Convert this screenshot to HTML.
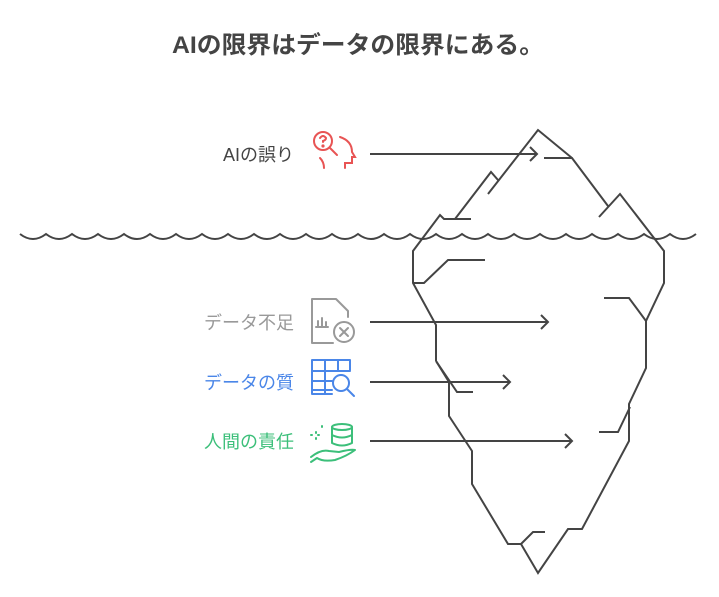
<!DOCTYPE html>
<html><head><meta charset="utf-8"><style>
html,body{margin:0;padding:0;background:#fff;width:719px;height:597px;overflow:hidden}
svg{display:block}
text{font-family:"Liberation Sans","Noto Sans CJK JP",sans-serif}
</style></head><body>
<svg width="719" height="597" viewBox="0 0 719 597" xmlns="http://www.w3.org/2000/svg">
<text x="358" y="53" text-anchor="middle" font-size="24" font-weight="bold" fill="#444" textLength="372" lengthAdjust="spacingAndGlyphs">AIの限界はデータの限界にある。</text>

<g fill="none" stroke="#444" stroke-width="2" stroke-linejoin="miter">
<polyline points="544,158 572,158 608,206"/>
<polyline points="599,217 620,194 664,251 664,283 646,321 646,368 629,404 629,441 582,529 568,529 538,573 521,544 508,544 472,484 472,451 449,416 449,382"/>
<polyline points="604,298 629,298 646,321"/>
<polyline points="599,432 618,432 630,407"/>
<polyline points="521,544 533,532 545,532"/>
<polyline points="436,361 457,392 473,392"/>
<polyline points="449,382 449,390"/>
<polyline points="436,361 436,325 413,283 413,251 440,215 444,219 471,219"/>
<polyline points="413,283 424,283 448,260 485,260"/>
<polyline points="455,219 491,172 498,180"/>
<polyline points="488,194 538,130 572,158"/>
<polyline points="436,361 449,382"/>
<path d="M20,234 q13,10 26,0 q13,10 26,0 q13,10 26,0 q13,10 26,0 q13,10 26,0 q13,10 26,0 q13,10 26,0 q13,10 26,0 q13,10 26,0 q13,10 26,0 q13,10 26,0 q13,10 26,0 q13,10 26,0 q13,10 26,0 q13,10 26,0 q13,10 26,0 q13,10 26,0 q13,10 26,0 q13,10 26,0 q13,10 26,0 q13,10 26,0 q13,10 26,0 q13,10 26,0 q13,10 26,0 q13,10 26,0 q13,10 26,0"/>
<line x1="370" y1="154" x2="537" y2="154"/><polyline points="530,147 537,154 530,161"/>
<line x1="370" y1="322" x2="548" y2="322"/><polyline points="541,315 548,322 541,329"/>
<line x1="370" y1="382" x2="510" y2="382"/><polyline points="503,375 510,382 503,389"/>
<line x1="370" y1="441" x2="572" y2="441"/><polyline points="565,434 572,441 565,448"/>
</g>

<text x="294" y="161" text-anchor="end" font-size="18" fill="#444">AIの誤り</text>
<text x="294" y="329" text-anchor="end" font-size="18" fill="#999">データ不足</text>
<text x="294" y="389" text-anchor="end" font-size="18" fill="#4a86e8">データの質</text>
<text x="294" y="448" text-anchor="end" font-size="18" fill="#3cbf7a">人間の責任</text>

<g fill="none" stroke="#e85454" stroke-width="2" stroke-linecap="round">
<circle cx="323" cy="141" r="9"/>
<path d="M320,138 q3,-4 6,0 q0,2 -3,3 v1"/>
<circle cx="323" cy="146" r="0.6" fill="#e85454"/>
<line x1="330" y1="148" x2="337" y2="155"/>
<path d="M340,137 q12,4 12,15 l3,5 h-3 v6 h-7 v5"/>
<path d="M320,158 q4,4 4,10"/>
</g>
<g fill="none" stroke="#999" stroke-width="2" stroke-linecap="round" stroke-linejoin="round">
<path d="M333,343 h-21 v-44 h24 l12,12 v6"/>
<path d="M316,327 h12 M318,327 v-6 M322,327 v-9 M326,327 v-5"/>
<circle cx="344" cy="332" r="10"/>
<path d="M340,328 l8,8 M348,328 l-8,8"/>
</g>
<g fill="none" stroke="#4a86e8" stroke-width="2" stroke-linecap="round" stroke-linejoin="round">
<path d="M332,394 h-20 v-34 h38 v10"/>
<path d="M312,371 h38 M312,381 h20 M312,390 h20 M325,361 v33 M338,361 v9"/>
<circle cx="341" cy="383" r="8"/>
<line x1="347" y1="389" x2="354" y2="396"/>
</g>
<g fill="none" stroke="#3cbf7a" stroke-width="2" stroke-linecap="round" stroke-linejoin="round">
<path d="M316,432 v1 M316,438 v1 M311,435 h1 M318,435 h1 M322,426 v1"/>
<ellipse cx="342" cy="427" rx="10" ry="3"/>
<path d="M332,427 v16 q10,5 20,0 v-16 M332,435 q10,5 20,0"/>
<path d="M311,457 q10,-8 18,-6 l10,1 q12,-3 16,-2 q-8,6 -20,10 q-12,2 -18,-2 l-6,4"/>
</g>
</svg>
</body></html>
